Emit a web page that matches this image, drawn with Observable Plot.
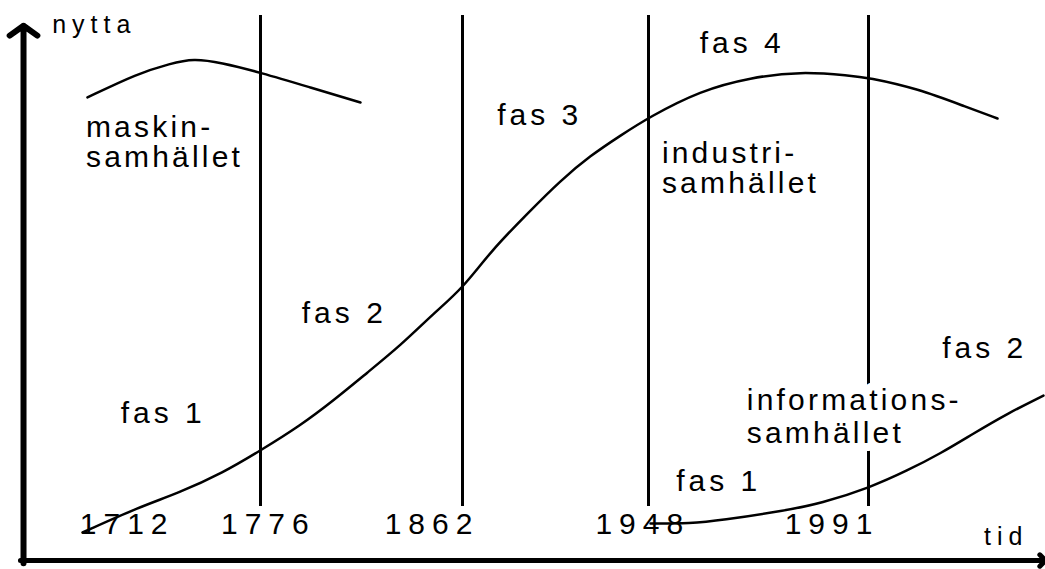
<!DOCTYPE html>
<html><head><meta charset="utf-8">
<script src="https://cdn.jsdelivr.net/npm/d3@7"></script>
<script src="https://cdn.jsdelivr.net/npm/@observablehq/plot@0.6"></script>
<style>
html,body{margin:0;padding:0;background:#fff;}
#chart svg{display:block;background:#fff;}
g[aria-description="years"] text{letter-spacing:7px;}
g[aria-description="words"] text{letter-spacing:3.2px;}
g[aria-description="phases"] text{letter-spacing:4px;}
g[aria-description="axislabels"] text{letter-spacing:6px;}
</style></head><body><div id="chart"></div>
<script>
// abstract "tid" (x, 0-100) and "nytta" (y, 0-100) units
const phaseYears = [1776, 1862, 1948, 1991];
const phaseLinePos = [23.26, 43.01, 61.19, 82.70];
const phaseLineBottom = 9.64;
const phaseLineTop = 97.3;

const yearLabels = ["1712", "1776", "1862", "1948", "1991"];
const yearLabelPos = [5.6, 19.4, 35.4, 56.0, 74.5];
const yearLabelY = 4.82;

// industrisamhället S-curve
const mainX = [5.87, 11.53, 15.15, 19.65, 23.26, 27.17, 30.40, 33.72, 36.95, 40.18, 43.01, 45.75, 49.36, 52.59, 55.52, 58.46, 61.19, 66.28, 71.16, 76.05, 80.94, 82.60, 87.49, 92.38, 95.31];
const mainY = [5.0, 9.64, 11.96, 15.71, 19.64, 24.11, 28.57, 33.57, 38.39, 44.11, 48.57, 55.18, 61.96, 67.86, 72.32, 75.89, 79.11, 83.93, 86.25, 87.32, 86.61, 86.25, 84.29, 80.89, 78.93];

// maskinsamhället curve
const maskinX = [6.35, 11.24, 14.47, 16.72, 19.35, 23.26, 28.15, 33.04];
const maskinY = [82.68, 86.96, 88.75, 89.64, 88.93, 87.14, 84.46, 81.79];

// informationssamhället curve
const infoX = [61.39, 65.30, 68.23, 74.58, 78.01, 82.89, 86.51, 89.74, 92.96, 96.29, 99.80];
const infoY = [6.61, 6.61, 7.14, 8.93, 10.18, 13.04, 16.07, 19.11, 22.68, 26.25, 29.46];

const wordTexts = ["maskin-\nsamhället", "industri-\nsamhället"];
const wordX = [6.2, 62.5];
const wordY = [70.18, 65.71];

const infoText = ["informations-\nsamhället"];
const infoTextX = [70.8];
const infoTextY = [21.07];

const phaseTexts = ["fas 1", "fas 2", "fas 3", "fas 4", "fas 2", "fas 1"];
const phaseX = [9.6, 27.3, 46.4, 66.2, 89.9, 63.9];
const phaseY = [24.64, 42.5, 77.68, 90.54, 36.25, 12.5];

const axisTexts = ["nytta", "tid"];
const axisTextX = [2.9, 94.0];
const axisTextY = [94.11, 2.68];

const toPts = (xs, ys) => xs.map((x, i) => ({x, y: ys[i]}));
const font = "Liberation Sans, Arial, sans-serif";

const plot = Plot.plot({
  width: 1045,
  height: 569,
  marginLeft: 22,
  marginRight: 0,
  marginTop: 0,
  marginBottom: 9,
  x: {domain: [0, 100], axis: null},
  y: {domain: [0, 100], axis: null},
  style: {background: "#fff", color: "#000", fontFamily: font},
  marks: [
    Plot.ruleX(phaseLinePos, {x: d => d, y1: phaseLineBottom, y2: phaseLineTop, stroke: "#000", strokeWidth: 3.5, shapeRendering: "crispEdges"}),
    Plot.text(infoText, {x: infoTextX, y: infoTextY, text: d => d, textAnchor: "start", lineAnchor: "bottom", lineHeight: 1.08, fontSize: 30, fill: "#000", stroke: "#fff", strokeWidth: 16, ariaDescription: "words"}),
    Plot.text(yearLabels, {x: yearLabelPos, y: yearLabelY, text: d => d, textAnchor: "start", lineAnchor: "bottom", fontSize: 30, fill: "#000", ariaDescription: "years"}),
    Plot.line(toPts(mainX, mainY), {x: "x", y: "y", curve: "basis", stroke: "#000", strokeWidth: 2.5}),
    Plot.line(toPts(maskinX, maskinY), {x: "x", y: "y", curve: "basis", stroke: "#000", strokeWidth: 2.5}),
    Plot.line(toPts(infoX, infoY), {x: "x", y: "y", curve: "basis", stroke: "#000", strokeWidth: 2.5}),
    Plot.text(wordTexts, {x: wordX, y: wordY, text: d => d, textAnchor: "start", lineAnchor: "bottom", lineHeight: 1, fontSize: 30, fill: "#000", ariaDescription: "words"}),
    Plot.text(phaseTexts, {x: phaseX, y: phaseY, text: d => d, textAnchor: "start", lineAnchor: "bottom", fontSize: 30, fill: "#000", ariaDescription: "phases"}),
    Plot.text(axisTexts, {x: axisTextX, y: axisTextY, text: d => d, textAnchor: "start", lineAnchor: "bottom", fontSize: 25, fill: "#000", ariaDescription: "axislabels"}),
    Plot.arrow([0], {x1: 0.1, y1: -0.5, x2: 0.1, y2: 95.5, stroke: "#000", strokeWidth: 6, headLength: 4.25, headAngle: 109}),
    Plot.arrow([0], {x1: -0.2, y1: 0, x2: 100, y2: 0, stroke: "#000", strokeWidth: 5, headLength: 2.4, headAngle: 90})
  ]
});
document.getElementById("chart").appendChild(plot);
</script>
</body></html>
